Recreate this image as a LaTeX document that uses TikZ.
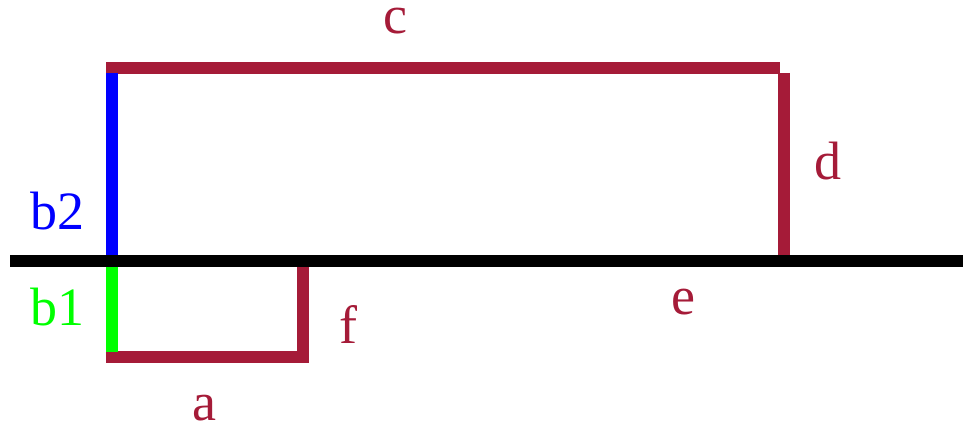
\documentclass[tikz,border=0pt]{standalone}
\usepackage{fontspec}
\newfontfamily\tagfont{Liberation Serif}
\usepackage{xcolor}
\usepackage{tikz}
\usetikzlibrary{positioning}
\definecolor{wine}{RGB}{165,27,56}

\begin{document}
\begin{tikzpicture}[x=0.5pt, y=-0.5pt,
  seg/.style={line width=6pt, wine},
  ground/.style={line width=6pt, black},
  tag/.style={font=\tagfont\fontsize{27}{30}\selectfont, text=wine, anchor=base, inner sep=0pt}
]
  \useasboundingbox (0,0) rectangle (963,426);

  % corners
  \coordinate (gl) at (10,261);
  \coordinate (gr) at (963,261);
  \coordinate (ctl) at (106,68);
  \coordinate (ctr) at (780,68);
  \coordinate (dt) at (784,73);
  \coordinate (db) at (784,267);
  \coordinate (bt) at (112,73);
  \coordinate (bm) at (112,255);
  \coordinate (bm2) at (112,267);
  \coordinate (bb) at (112,352);
  \coordinate (al) at (106,357);
  \coordinate (ar) at (309,357);
  \coordinate (ft) at (303,255);
  \coordinate (fb) at (303,363);
  \coordinate (el) at (298,261);
  \coordinate (er) at (790,261);

  \draw[seg] (el) -- (er);
  \draw[seg] (ctl) -- (ctr);
  \draw[seg] (dt) -- (db);
  \draw[seg] (al) -- (ar);
  \draw[seg] (ft) -- (fb);
  \draw[line width=6pt, blue] (bt) -- (bm);
  \draw[line width=6pt, green] (bm2) -- (bb);
  \draw[ground] (gl) -- (gr);

  \node[tag] (lc) at (395,34) {c};
  \node[tag] (ld) at (828,180) {d};
  \node[tag] (le) at (683,315) {e};
  \node[tag] (lf) at (348,344) {f};
  \node[tag] (la) at (204,421) {a};
  \node[tag, text=blue] (lb2) at (58,230) {b2};
  \node[tag, text=green] (lb1) at (57,326) {b1};
\end{tikzpicture}
\end{document}
